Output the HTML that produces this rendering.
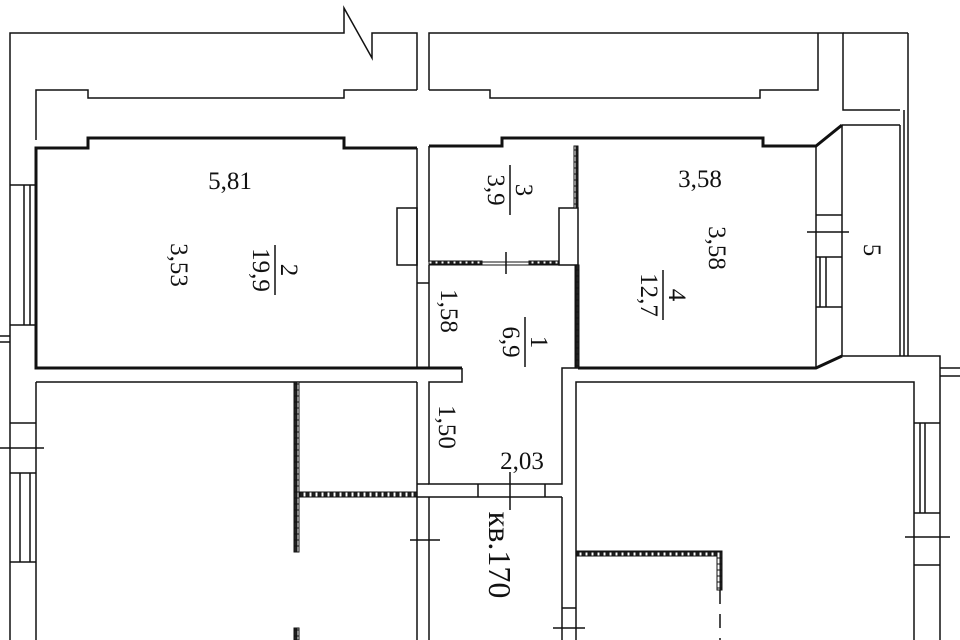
<!DOCTYPE html>
<html><head><meta charset="utf-8"><style>html,body{margin:0;padding:0;background:#fff}svg{display:block}</style></head>
<body>
<svg width="960" height="640" viewBox="0 0 960 640" xmlns="http://www.w3.org/2000/svg" font-family="Liberation Serif, serif" fill="none" stroke="#111">
<defs>
<pattern id="h" width="6" height="6" patternUnits="userSpaceOnUse"><rect width="6" height="6" fill="#fff"/><rect width="3" height="6" fill="#222"/></pattern>
</defs>
<g stroke-width="1.5">
<polyline points="10,640 10,33 344,33 344,8 372,58 372,33 417,33 417,90"/>
<polyline points="429,90 429,33 843,33 843,110 900,110"/>
<line x1="908" y1="33" x2="908" y2="356"/>
<line x1="843" y1="33" x2="908" y2="33"/>
<polyline points="36,140 36,90 88,90 88,98 344,98 344,90 417,90"/>
<polyline points="429,90 490,90 490,98 760,98 760,90 818,90 818,33"/>
<line x1="417" y1="148" x2="417" y2="368"/>
<line x1="429" y1="146" x2="429" y2="262"/>
<line x1="429" y1="265" x2="429" y2="368"/>
<line x1="417" y1="283" x2="429" y2="283"/>
<rect x="397" y="208" width="20" height="57"/>
<rect x="559" y="208" width="19" height="57"/>
<line x1="482" y1="262" x2="529" y2="262" stroke-width="1"/>
<line x1="482" y1="265" x2="529" y2="265" stroke-width="1"/>
<line x1="24" y1="185" x2="24" y2="325"/><line x1="30" y1="185" x2="30" y2="325"/>
<line x1="10" y1="185" x2="36" y2="185"/><line x1="10" y1="325" x2="36" y2="325"/>
<line x1="0" y1="336" x2="10" y2="336"/><line x1="0" y1="342" x2="10" y2="342"/>
<line x1="36" y1="382" x2="36" y2="640"/>
<line x1="10" y1="423" x2="36" y2="423"/><line x1="0" y1="448" x2="44" y2="448"/>
<line x1="10" y1="473" x2="36" y2="473"/><line x1="10" y1="562" x2="36" y2="562"/>
<line x1="20" y1="473" x2="20" y2="562"/><line x1="30" y1="473" x2="30" y2="562"/>
<line x1="816" y1="146" x2="816" y2="368"/>
<line x1="842" y1="125" x2="842" y2="356"/>
<line x1="900" y1="125" x2="900" y2="356"/><line x1="904" y1="110" x2="904" y2="356"/>
<line x1="816" y1="215" x2="842" y2="215"/><line x1="807" y1="232" x2="849" y2="232"/>
<line x1="816" y1="257" x2="842" y2="257"/><line x1="816" y1="307" x2="842" y2="307"/>
<line x1="820" y1="257" x2="820" y2="307"/><line x1="826" y1="257" x2="826" y2="307"/>
<line x1="842" y1="125" x2="900" y2="125"/>
<polyline points="842,356 940,356 940,640"/>
<line x1="940" y1="368" x2="960" y2="368"/><line x1="940" y1="376" x2="960" y2="376"/>
<line x1="36" y1="382" x2="417" y2="382"/>
<line x1="417" y1="382" x2="417" y2="640"/>
<polyline points="462,368 462,382 429,382 429,484 562,484 562,368 578,368"/>
<line x1="429" y1="497" x2="429" y2="640"/>
<line x1="417" y1="484" x2="429" y2="484"/><line x1="417" y1="497" x2="429" y2="497"/>
<line x1="410" y1="540" x2="440" y2="540"/>
<line x1="429" y1="497" x2="562" y2="497"/>
<line x1="478" y1="484" x2="478" y2="497"/><line x1="545" y1="484" x2="545" y2="497"/>
<line x1="510" y1="472" x2="510" y2="510"/>
<line x1="562" y1="497" x2="562" y2="640"/>
<polyline points="576,640 576,382 914,382 914,640"/>
<line x1="914" y1="423" x2="940" y2="423"/><line x1="914" y1="513" x2="940" y2="513"/>
<line x1="920" y1="423" x2="920" y2="513"/><line x1="925" y1="423" x2="925" y2="513"/>
<line x1="905" y1="537" x2="950" y2="537"/><line x1="914" y1="565" x2="940" y2="565"/>
<line x1="553" y1="628" x2="585" y2="628"/><line x1="562" y1="608" x2="576" y2="608"/>
<line x1="720" y1="590" x2="720" y2="640" stroke-dasharray="14,10"/>
</g>
<g stroke-width="3">
<polyline points="417,148 344,148 344,138 88,138 88,148 36,148 36,368 462,368"/>
<polyline points="429,146 502,146 502,138 763,138 763,146 816,146 842,125"/>
<polyline points="578,368 816,368 842,356"/>
</g>
<g stroke="#111" stroke-width="1">
<rect x="574" y="146" width="4" height="62" fill="url(#h)"/>
<rect x="575" y="265" width="4" height="103" fill="url(#h)"/>
<rect x="429" y="261" width="53" height="4" fill="url(#h)"/>
<rect x="529" y="261" width="30" height="4" fill="url(#h)"/>
<rect x="294" y="382" width="5" height="170" fill="url(#h)"/>
<rect x="299" y="492" width="118" height="5" fill="url(#h)"/>
<rect x="294" y="628" width="5" height="12" fill="url(#h)"/>
<rect x="577" y="551" width="145" height="5" fill="url(#h)"/>
<rect x="717" y="551" width="5" height="39" fill="url(#h)"/>
</g>
<line x1="506" y1="252" x2="506" y2="274" stroke-width="1.5"/>
<g fill="#111" stroke="none" font-size="25">
<text x="230" y="189" text-anchor="middle">5,81</text>
<text x="700" y="187" text-anchor="middle">3,58</text>
<text x="522" y="469" text-anchor="middle">2,03</text>
<text transform="translate(171,265) rotate(90)" text-anchor="middle">3,53</text>
<text transform="translate(709,248) rotate(90)" text-anchor="middle">3,58</text>
<text transform="translate(864,250) rotate(90)" text-anchor="middle">5</text>
<text transform="translate(441,311) rotate(90)" text-anchor="middle">1,58</text>
<text transform="translate(439,427) rotate(90)" text-anchor="middle">1,50</text>
<g transform="translate(272,270) rotate(90)">
<text x="0" y="-9" text-anchor="middle">2</text><line x1="-25" y1="-3" x2="25" y2="-3" stroke="#111" stroke-width="1.5"/><text x="0" y="19" text-anchor="middle">19,9</text></g>
<g transform="translate(507,190) rotate(90)">
<text x="0" y="-9" text-anchor="middle">3</text><line x1="-25" y1="-3" x2="25" y2="-3" stroke="#111" stroke-width="1.5"/><text x="0" y="19" text-anchor="middle">3,9</text></g>
<g transform="translate(660,295) rotate(90)">
<text x="0" y="-9" text-anchor="middle">4</text><line x1="-25" y1="-3" x2="25" y2="-3" stroke="#111" stroke-width="1.5"/><text x="0" y="19" text-anchor="middle">12,7</text></g>
<g transform="translate(522,342) rotate(90)">
<text x="0" y="-9" text-anchor="middle">1</text><line x1="-25" y1="-3" x2="25" y2="-3" stroke="#111" stroke-width="1.5"/><text x="0" y="19" text-anchor="middle">6,9</text></g>
<text transform="translate(489,555) rotate(90)" text-anchor="middle" font-size="32">кв.170</text>
</g>
</svg>
</body></html>
